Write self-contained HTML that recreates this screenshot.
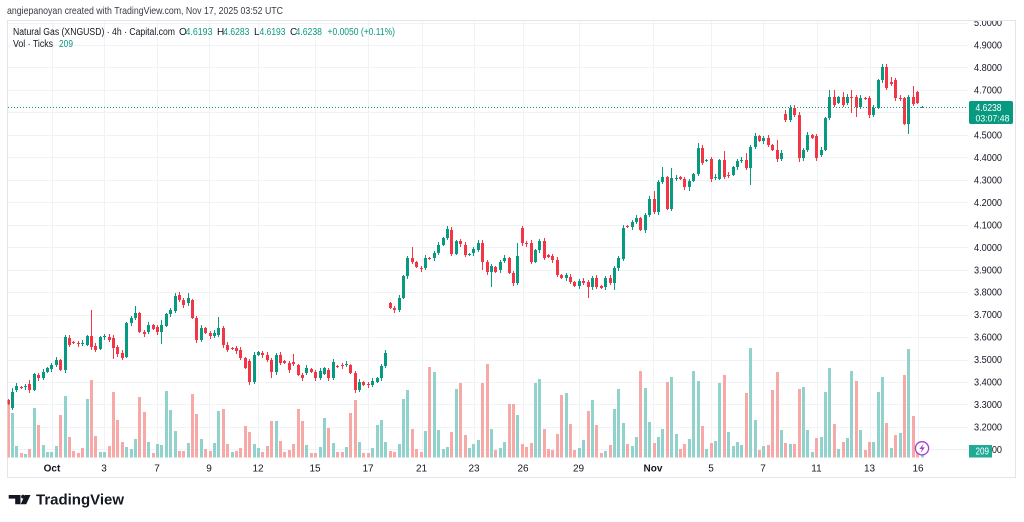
<!DOCTYPE html>
<html><head><meta charset="utf-8">
<style>
html,body{margin:0;padding:0;background:#fff;width:1024px;height:522px;overflow:hidden}
svg{display:block;font-family:"Liberation Sans",sans-serif}
</style></head><body>
<svg id="s" width="1024" height="522" viewBox="0 0 1024 522" xmlns="http://www.w3.org/2000/svg">
<defs>
<clipPath id="pc"><rect x="7.5" y="20.5" width="960.5" height="437.5"/></clipPath>
<clipPath id="ac"><rect x="968" y="21" width="47" height="437"/></clipPath>
</defs>
<rect x="0" y="0" width="1024" height="522" fill="#fff"/>
<rect x="7.5" y="20.5" width="1008" height="457" fill="#fff" stroke="#e3e5ea" stroke-width="1"/>
<g id="grid" stroke="#f0f2f5" stroke-width="1"></g>
<g id="vol" clip-path="url(#pc)"></g>
<g id="cdl" clip-path="url(#pc)"></g>
<line x1="8" y1="107.5" x2="968" y2="107.5" stroke="#089981" stroke-width="1" stroke-dasharray="1,2"/>

<!-- header -->
<text x="7" y="14" font-size="10.5" fill="#363a45" textLength="276" lengthAdjust="spacingAndGlyphs">angiepanoyan created with TradingView.com, Nov 17, 2025 03:52 UTC</text>

<!-- legend -->
<g font-size="10">
<text x="13" y="35" fill="#131722" textLength="162" lengthAdjust="spacingAndGlyphs">Natural Gas (XNGUSD) · 4h · Capital.com</text>
<text x="179" y="35" fill="#131722">O</text>
<text x="185.5" y="35" fill="#089981" textLength="27" lengthAdjust="spacingAndGlyphs">4.6193</text>
<text x="217" y="35" fill="#131722">H</text>
<text x="223.3" y="35" fill="#089981" textLength="26" lengthAdjust="spacingAndGlyphs">4.6283</text>
<text x="254" y="35" fill="#131722">L</text>
<text x="259.5" y="35" fill="#089981" textLength="26" lengthAdjust="spacingAndGlyphs">4.6193</text>
<text x="290" y="35" fill="#131722">C</text>
<text x="295.5" y="35" fill="#089981" textLength="26.5" lengthAdjust="spacingAndGlyphs">4.6238</text>
<text x="327.5" y="35" fill="#089981" textLength="67.5" lengthAdjust="spacingAndGlyphs">+0.0050 (+0.11%)</text>
<text x="13" y="47" fill="#131722" textLength="40" lengthAdjust="spacingAndGlyphs">Vol · Ticks</text>
<text x="59" y="47" fill="#089981" textLength="14" lengthAdjust="spacingAndGlyphs">209</text>
</g>

<!-- price axis -->
<g font-size="10" fill="#131722" clip-path="url(#ac)">
<text x="974" y="26.1" textLength="28" lengthAdjust="spacingAndGlyphs">5.0000</text>
<text x="974" y="48.6" textLength="28" lengthAdjust="spacingAndGlyphs">4.9000</text>
<text x="974" y="71.0" textLength="28" lengthAdjust="spacingAndGlyphs">4.8000</text>
<text x="974" y="93.5" textLength="28" lengthAdjust="spacingAndGlyphs">4.7000</text>
<text x="974" y="138.5" textLength="28" lengthAdjust="spacingAndGlyphs">4.5000</text>
<text x="974" y="160.9" textLength="28" lengthAdjust="spacingAndGlyphs">4.4000</text>
<text x="974" y="183.4" textLength="28" lengthAdjust="spacingAndGlyphs">4.3000</text>
<text x="974" y="205.9" textLength="28" lengthAdjust="spacingAndGlyphs">4.2000</text>
<text x="974" y="228.3" textLength="28" lengthAdjust="spacingAndGlyphs">4.1000</text>
<text x="974" y="250.8" textLength="28" lengthAdjust="spacingAndGlyphs">4.0000</text>
<text x="974" y="273.3" textLength="28" lengthAdjust="spacingAndGlyphs">3.9000</text>
<text x="974" y="295.7" textLength="28" lengthAdjust="spacingAndGlyphs">3.8000</text>
<text x="974" y="318.2" textLength="28" lengthAdjust="spacingAndGlyphs">3.7000</text>
<text x="974" y="340.7" textLength="28" lengthAdjust="spacingAndGlyphs">3.6000</text>
<text x="974" y="363.2" textLength="28" lengthAdjust="spacingAndGlyphs">3.5000</text>
<text x="974" y="385.6" textLength="28" lengthAdjust="spacingAndGlyphs">3.4000</text>
<text x="974" y="408.1" textLength="28" lengthAdjust="spacingAndGlyphs">3.3000</text>
<text x="974" y="430.6" textLength="28" lengthAdjust="spacingAndGlyphs">3.2000</text>
<text x="974" y="453.0" textLength="28" lengthAdjust="spacingAndGlyphs">3.1000</text>
</g>

<!-- current price label -->
<rect x="969" y="101" width="44" height="23" rx="2" fill="#089981"/>
<text x="975.5" y="111" font-size="10" fill="#fff" textLength="26" lengthAdjust="spacingAndGlyphs">4.6238</text>
<text x="975.5" y="121.5" font-size="9.5" fill="#fff" textLength="34" lengthAdjust="spacingAndGlyphs">03:07:48</text>

<!-- volume label -->
<rect x="969" y="445" width="23" height="12.5" fill="#22ab94"/>
<text x="975.5" y="454.5" font-size="10" fill="#fff" textLength="13.5" lengthAdjust="spacingAndGlyphs">209</text>

<!-- time axis -->
<g font-size="10" fill="#131722" text-anchor="middle">
<text x="52" y="471.5" font-weight="bold">Oct</text>
<text x="104" y="471.5">3</text>
<text x="157" y="471.5">7</text>
<text x="209" y="471.5">9</text>
<text x="258" y="471.5">12</text>
<text x="315" y="471.5">15</text>
<text x="368" y="471.5">17</text>
<text x="421.5" y="471.5">21</text>
<text x="474" y="471.5">23</text>
<text x="523" y="471.5">26</text>
<text x="578.5" y="471.5">29</text>
<text x="653" y="471.5" font-weight="bold">Nov</text>
<text x="711" y="471.5">5</text>
<text x="763" y="471.5">7</text>
<text x="816.5" y="471.5">11</text>
<text x="869.5" y="471.5">13</text>
<text x="918" y="471.5">16</text>
</g>

<!-- lightning icon -->
<circle cx="922" cy="448.3" r="6.6" fill="#fff" stroke="#a23fcf" stroke-width="1.3"/>
<path d="M923.6,443.6 L919.4,449 H922 L920.6,453 L924.8,447.4 H922.2 Z" fill="#a23fcf"/>

<!-- logo -->
<path d="M8.7,495 H20.5 V504.3 H15.2 V498.6 H8.7 Z" fill="#131722"/>
<circle cx="23" cy="496.6" r="1.9" fill="#131722"/>
<path d="M25,495 H30.5 L26.2,504.3 H20.6 Z" fill="#131722"/>
<text x="36" y="504.3" font-size="14.5" font-weight="bold" fill="#131722" textLength="88" lengthAdjust="spacingAndGlyphs">TradingView</text>

<script>
(function(){
var NS='http://www.w3.org/2000/svg';
function el(p,t,a){var e=document.createElementNS(NS,t);for(var k in a)e.setAttribute(k,a[k]);p.appendChild(e);return e;}
function X(i){return 7.5+4.395*i;}
function G(x){return Math.round((x-7.5)/4.395);}
var gg=document.getElementById('grid'),vg=document.getElementById('vol'),cg=document.getElementById('cdl');
for(var k=0;k<20;k++){var y=Math.round(22.5+k*22.47)+0.5;el(gg,'line',{x1:8,x2:968,y1:y,y2:y});}
[52,104,157,209,258,315,368,421.5,474,523,578.5,653,711,763,816.5,869.5,918].forEach(function(x){var xx=Math.round(x)+0.5;el(gg,'line',{x1:xx,x2:xx,y1:21,y2:458});});
var V=[[8,403,0],[12,413,1],[17,446,1],[21,453,0],[25,454,1],[30,449,0],[34,408,1],[38,425,0],[43,445,1],[47,452,1],[52,452,1],[56,446,1],[60,415,0],[65,396,1],[69,437,0],[74,451,0],[78,453,0],[82,448,0],[87,399,1],[91,380,0],[96,436,0],[100,452,1],[104,452,1],[109,446,0],[113,392,0],[117,420,0],[122,442,0],[126,447,1],[131,449,1],[135,439,1],[140,397,0],[144,412,0],[148,442,1],[153,453,0],[157,444,1],[161,445,1],[166,391,1],[170,410,1],[175,431,1],[179,451,0],[184,451,0],[188,443,1],[193,394,0],[197,414,0],[201,439,1],[206,449,0],[210,451,0],[214,443,1],[219,411,1],[223,409,0],[228,444,0],[232,452,1],[236,451,0],[241,448,0],[245,426,0],[249,432,0],[254,444,1],[258,448,1],[263,452,0],[267,446,0],[271,421,0],[276,421,1],[280,441,0],[284,452,0],[289,450,0],[293,444,0],[297,409,0],
[302,421,0],[307,445,1],[311,453,0],[315,453,0],[320,447,1],[324,418,1],[329,428,0],[333,443,1],[338,452,0],[342,452,0],[346,447,1],[351,413,0],[355,400,0],[360,442,1],[364,453,0],[368,453,0],[373,448,1],[377,425,1],[382,420,1],[386,442,1],[390,451,0],[395,452,0],[399,444,1],[403,399,1],[408,390,1],[412,429,0],[417,449,0],[421,452,0],[426,431,1],[430,367,0],[434,372,1],[439,430,1],[443,449,1],[447,447,1],[452,432,0],[456,389,1],[461,383,0],[465,435,0],[469,448,1],[474,444,1],[478,440,1],[483,383,0],[487,364,0],[491,429,1],[496,450,0],[500,448,1],[504,442,1],[509,404,0],[513,404,0],[517,415,1],[522,444,0],[526,447,0],[531,443,0],[535,383,1],[539,379,1],[544,429,0],[548,449,0],[552,450,0],[557,434,0],[561,395,0],[565,393,1],[570,424,0],[574,450,0],[579,448,1],[583,440,1],[587,411,0],[592,400,1],[596,425,0],
[601,453,0],[605,451,1],[610,445,0],[614,409,1],[619,389,1],[623,423,1],[627,444,0],[632,446,1],[636,437,1],[640,371,0],[645,388,1],[649,422,1],[654,443,0],[658,437,1],[662,429,1],[667,382,0],[671,377,1],[676,434,1],[680,449,0],[684,444,0],[689,439,1],[693,371,1],[698,381,1],[702,426,0],[706,449,1],[711,443,0],[715,441,1],[720,383,1],[724,375,0],[728,432,1],[733,446,1],[737,442,1],[741,445,1],[746,393,0],[750,348,1],[755,420,1],[759,450,0],[763,446,1],[768,445,0],[772,390,0],[777,372,0],[781,430,1],[785,443,0],[790,444,1],[794,444,0],[799,389,0],[803,387,1],[807,430,1],[812,452,1],[816,438,0],[821,437,1],[825,392,1],[829,368,1],[834,424,0],[838,449,1],[842,442,0],[847,438,1],[851,371,1],[856,381,0],[860,430,1],[864,450,0],[869,442,0],[873,442,1],[877,392,1],[882,377,1],[886,423,0],[890,448,1],[895,435,0],[899,433,1],[904,375,0],[908,349,1],[912,416,0],[917,452,0],[921,455,1]];
V.forEach(function(v){var x=Math.round(X(G(v[0])));el(vg,'rect',{x:x-1,y:v[1],width:3,height:457.5-v[1],fill:v[2]?'#92d2cc':'#f7a9a7'});});
var C=[[7,400,404],[12,408,392,388,410],[17,390,386],[21,387,388],[26,387,386],[30,384,390,380,393],[34,390,374],[39,375,378],[43,378,372],[48,372,368],[52,369,365],[56,365,360],[61,360,370],[65,370,337],[69,338,345],[74,342,343],[78,343,344],[83,344,343],[87,345,336],[92,336,347,310,350],[96,346,350],[100,349,337],[105,337,336],[109,337,340],[113,338,348,335,359],[117,347,354],[122,353,358],[127,357,323],[131,323,318],[135,318,313,306,320],[139,313,332],[144,332,334],[148,332,325],[153,325,329],[157,327,332],[162,332,325,320,344],[166,326,314],[171,314,310],[175,311,296],[180,295,300,292,302],[184,300,305],[188,303,298,293,306],[193,300,318],[197,318,340],[201,340,328],[206,328,333],[210,333,336],[214,336,333],[219,335,328,317,337],[223,328,345],[227,345,350],[232,348,349],[236,348,351],[241,350,358],[245,358,368],[250,361,382],[254,382,355],[258,355,352],[263,353,355],[267,355,360],[272,360,372,358,378],[276,372,355],[280,355,363],[285,361,363],[289,363,370],[293,362,364,354,366],[298,365,375],[302,375,378],[307,373,368],[311,369,372],[315,372,378],[320,378,371],[324,374,368],[329,370,378],[333,378,362],[338,366,367],[342,365,366],[346,365,364],[351,365,373],[355,373,390],[360,390,382],[364,382,385],[369,384,385],[373,385,381],[377,382,378],[382,378,366],[386,366,353],
[390,303,308],[394,308,310],[399,310,298],[403,298,276],[408,276,258],[412,258,262,247,264],[417,262,267],[421,268,269],[426,268,258],[430,258,259],[434,258,253],[439,253,245],[443,245,238],[448,238,229,226,240],[452,230,254],[457,254,241],[461,241,244],[465,245,255],[470,255,254],[474,253,249],[479,250,243],[483,243,262,240,270],[487,262,272],[492,272,266,264,287],[496,267,272],[500,270,262],[505,261,258],[509,258,273],[513,273,283],[518,283,256,243,285],
[523,228,243,226,246],[527,243,244],[531,243,262],[535,262,250],[540,250,241],[544,241,258],[549,255,257],[553,256,260],[557,260,275],[562,275,278],[566,278,275],[570,277,282],[575,282,286],[579,286,281],[584,281,283],[588,282,287,280,298],[592,287,278],[597,278,287],[601,286,288],[606,287,278],[610,278,283],[614,283,268,266,290],[619,268,258],[623,259,228],[628,226,227],[632,227,222],[637,222,218],[641,218,230],[646,230,215],[650,215,199],[654,199,212,191,214],[658,212,182],[663,182,177,167,184],[667,177,209],[672,209,178,168,211],[676,179,178],[681,177,179],[685,179,187],[689,187,181,179,191],[694,181,174],[698,174,148,143,176],[702,148,163],[707,161,160],[711,159,179],[715,178,177],[720,179,160],[724,160,177,151,179],[729,175,176],[733,175,167],[738,167,161],[742,161,160],[746,160,168,153,170],[751,168,147,145,185],[755,147,136],[759,136,141],[764,141,138],[768,138,145],[773,145,150],[777,150,159,140,162],[782,159,153],
[786,114,120,110,122],[790,120,108,105,122],[795,108,115],[799,115,158,112,162],[803,158,150],[808,150,135],[812,135,138],[817,136,158],[821,155,150],[826,150,118],[830,118,97,90,120],[834,97,105,90,107],[839,103,97],[843,97,105,92,107],[848,103,97],[852,97,98,90,113],[856,97,107,95,117],[861,107,98],[865,98,99],[870,98,115],[874,115,108],[878,108,80],[883,80,67,64,83],[887,67,88],[892,82,84,77,86],[896,80,98],[900,98,99],[905,98,124],[909,124,97,95,134],[913,97,104,86,106],[918,92,103],[922,108,107,106,108]];
var arr=[];for(var i=0;i<209;i++)arr.push(null);
C.forEach(function(c){var j=G(c[0]);if(j>=0&&j<209)arr[j]=c;});
var prev=400;
for(var i=0;i<209;i++){
 var c=arr[i]||[0,prev,prev];
 var o=c[1],cl=c[2],up=cl<=o;
 var col=up?'#089981':'#f23645';
 var top=Math.min(o,cl),bot=Math.max(o,cl);
 var hi=c.length>3?c[3]:top-(1+(i*7)%3);
 var lo=c.length>4?c[4]:bot+(1+(i*5)%3);
 var x=Math.round(X(i));
 el(cg,'rect',{x:x,y:hi,width:1,height:Math.max(lo-hi,1),fill:col});
 el(cg,'rect',{x:x-1,y:top,width:3,height:Math.max(bot-top,1),fill:col});
 prev=cl;
}
})();
</script>
</svg>
</body></html>
